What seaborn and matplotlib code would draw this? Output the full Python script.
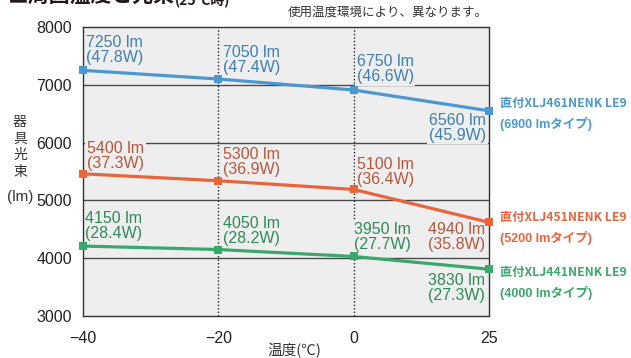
import numpy as np
import pandas as pd
import seaborn as sns
import matplotlib.pyplot as plt

# temperature categories (equally spaced on the chart)
temps = ['\u221240', '\u221220', '0', '25']

# plotted luminous flux
blue_lm = [7250, 7100, 6910, 6550]
red_lm = [5460, 5340, 5190, 4620]
green_lm = [4210, 4150, 4030, 3810]

# annotation values
blue_lm_text = [7250, 7050, 6750, 6560]
blue_w = [47.8, 47.4, 46.6, 45.9]
red_lm_text = [5400, 5300, 5100, 4940]
red_w = [37.3, 36.9, 36.4, 35.8]
green_lm_text = [4150, 4050, 3950, 3830]
green_w = [28.4, 28.2, 27.7, 27.3]

models = ['直付XLJ461NENK LE9', '直付XLJ451NENK LE9', '直付XLJ441NENK LE9']
types = ['(6900 lmタイプ)', '(5200 lmタイプ)', '(4000 lmタイプ)']

line_colors = ['#4a98cf', '#e8653c', '#3aa86a']
text_colors = ['#3f7fab', '#b5573d', '#2f8a58']
bg = '#eeeeee'

rows = []
for name, vals in zip(models, [blue_lm, red_lm, green_lm]):
    for i, v in enumerate(vals):
        rows.append({'pos': i, 'lm': v, 'model': name})
df = pd.DataFrame(rows)

sns.set_theme(style='white')
plt.rcParams['font.family'] = ['Liberation Sans', 'Noto Sans CJK JP', 'DejaVu Sans']

fig = plt.figure(figsize=(6.31, 3.58), dpi=100)
ax = fig.add_axes([83 / 631, 1 - 316 / 358, 406 / 631, 289 / 358])
ax.set_facecolor(bg)

# grid
for y in [4000, 5000, 6000, 7000]:
    ax.axhline(y, color='#4a4a4a', lw=1.0, zorder=1)
for x in [1, 2]:
    ax.axvline(x, color='#222222', lw=1.0, ls=(0, (1, 1.5)), zorder=1)

sns.lineplot(data=df, x='pos', y='lm', hue='model', palette=line_colors,
             marker='s', markersize=6, markeredgewidth=0, linewidth=2.3,
             legend=False, ax=ax, zorder=3, clip_on=False)

ax.set_xlim(0, 3)
ax.set_ylim(3000, 8000)
ax.set_xticks(range(4))
ax.set_xticklabels(temps)
ax.set_yticks([3000, 4000, 5000, 6000, 7000, 8000])
ax.tick_params(axis='both', length=0, labelsize=11.5, colors='#222222')
ax.tick_params(axis='x', pad=11)
ax.tick_params(axis='y', pad=8)
ax.set_xlabel('')
ax.set_ylabel('')
for s in ax.spines.values():
    s.set_color('#333333')
    s.set_linewidth(1.0)

# point labels
offsets = [
    [(3, 5, 'left', 'bottom'), (5, 4, 'left', 'bottom'), (3, 6, 'left', 'bottom'), (-3, -2, 'right', 'top')],
    [(4, 3, 'left', 'bottom'), (5, 4, 'left', 'bottom'), (3, 2, 'left', 'bottom'), (-4, 0, 'right', 'top')],
    [(2, 5, 'left', 'bottom'), (5, 4, 'left', 'bottom'), (0, 4, 'left', 'bottom'), (-4, -4, 'right', 'top')],
]
series = [(blue_lm, blue_lm_text, blue_w), (red_lm, red_lm_text, red_w), (green_lm, green_lm_text, green_w)]
for k, (vals, lms, ws) in enumerate(series):
    for i in range(4):
        dx, dy, ha, va = offsets[k][i]
        ax.annotate(f'{lms[i]} lm\n({ws[i]}W)', (i, vals[i]), xytext=(dx, dy),
                    textcoords='offset pixels', ha=ha, va=va, fontsize=11.5,
                    color=text_colors[k], linespacing=1.0, zorder=2,
                    bbox=dict(boxstyle='square,pad=0.1', fc=bg, ec='none'))

# series names on the right
name_y = [103, 217, 272]
for k in range(3):
    fig.text(500 / 631, 1 - name_y[k] / 358, models[k], ha='left', va='center',
             fontsize=8.8, fontweight='bold', color=line_colors[k],
             family=['Noto Sans CJK JP'])
    fig.text(500 / 631, 1 - (name_y[k] + 21) / 358, types[k], ha='left', va='center',
             fontsize=9, fontweight='bold', color=line_colors[k],
             family=['Liberation Sans', 'Noto Sans CJK JP'])

# titles and axis labels
t1 = fig.text(8 / 631, 1 - 7 / 358, '■周囲温度と光束', ha='left', va='bottom',
              fontsize=15, fontweight='bold', color='#231815',
              family=['Noto Sans CJK JP'])
fig.canvas.draw()
bb = t1.get_window_extent()
fig.text(bb.x1 / 631, 1 - 7 / 358, '(25°C時)', ha='left', va='bottom',
         fontsize=10, fontweight='bold', color='#231815',
         family=['Noto Sans CJK JP'])
fig.text(488 / 631, 1 - 12 / 358, '使用温度環境により、異なります。', ha='right', va='center',
         fontsize=9, color='#333333', family=['Noto Sans CJK JP'])
fig.text(20 / 631, 1 - 147 / 358, '器\n具\n光\n束', ha='center', va='center',
         fontsize=10, color='#333333', linespacing=1.25, family=['Noto Sans CJK JP'])
fig.text(20 / 631, 1 - 197 / 358, '(lm)', ha='center', va='center',
         fontsize=11, color='#333333')
fig.text(294 / 631, 1 - 351 / 358, '温度(℃)', ha='center', va='center',
         fontsize=10.5, color='#333333', family=['Noto Sans CJK JP'])

fig.savefig('out.png', dpi=100)
